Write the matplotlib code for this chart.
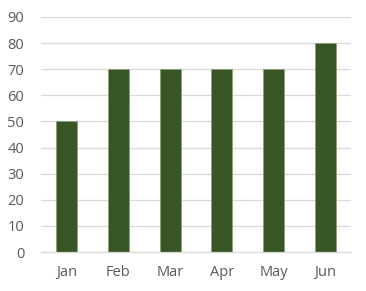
import matplotlib
matplotlib.use("Agg")
import matplotlib.pyplot as plt

# data
months = ["Jan", "Feb", "Mar", "Apr", "May", "Jun"]
values = [50, 70, 70, 70, 70, 80]
yticks = [0, 10, 20, 30, 40, 50, 60, 70, 80, 90]

plt.rcParams['font.family'] = ['Open Sans', 'DejaVu Sans']

fig = plt.figure(figsize=(3.66, 2.91), dpi=100)
ax = fig.add_axes([0.112, 0.134, 0.847, 0.808])

x = range(len(months))
ax.bar(x, values, width=0.41, color="#375623", edgecolor="#8fa07f",
       linewidth=0.6, zorder=3)

ax.set_xlim(-0.5, len(months) - 0.5)
ax.set_ylim(0, 90)
ax.set_yticks(yticks)
ax.set_xticks(list(x))
ax.set_xticklabels(months)

ax.grid(axis="y", color="#d9d9d9", linewidth=0.9, zorder=0)
for s in ["top", "right", "left"]:
    ax.spines[s].set_visible(False)
ax.spines["bottom"].set_color("#d9d9d9")
ax.spines["bottom"].set_linewidth(0.9)
ax.spines["bottom"].set_zorder(4)

ax.tick_params(axis="both", length=0, colors="#595959", labelsize=10.5)
ax.tick_params(axis="y", pad=12)
ax.tick_params(axis="x", pad=9)
for lbl in ax.get_yticklabels():
    lbl.set_horizontalalignment("right")

fig.savefig("out.png", dpi=100)
